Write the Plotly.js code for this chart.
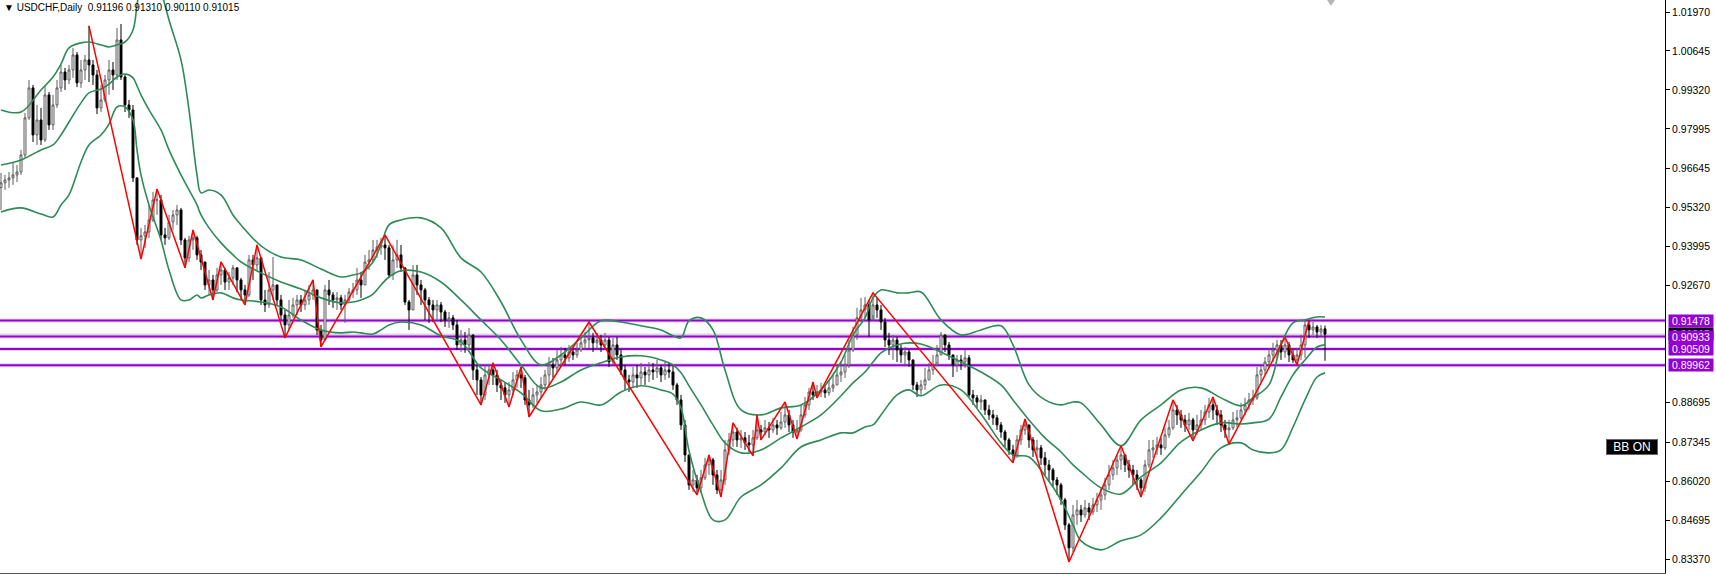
<!DOCTYPE html>
<html><head><meta charset="utf-8">
<script src="https://cdn.plot.ly/plotly-3.0.1.min.js"></script>
<style>html,body{margin:0;padding:0;background:#fff;}#chart{width:1716px;height:577px;}</style>
</head><body><div id="chart"></div>
<script>
// ---- data ----
const symbolTitle = 'USDCHF,Daily';
const lastBar = {open: 0.91196, high: 0.91310, low: 0.90110, close: 0.91015};
const firstOpen = 0.9600;
const closes = [
0.9616,0.9626,0.9633,0.9643,0.9653,0.9711,0.9837,0.9939,0.9779,0.9830,
0.9762,0.9915,0.9813,0.9881,0.9939,0.9993,0.9966,1.0000,1.0051,0.9956,
1.0000,1.0034,1.0017,0.9983,0.9871,0.9898,0.9966,1.0000,0.9983,1.0102,
0.9976,0.9881,0.9864,0.9633,0.9422,0.9436,0.9449,0.9490,0.9558,0.9558,
0.9439,0.9429,0.9483,0.9507,0.9524,0.9422,0.9361,0.9422,0.9429,0.9371,
0.9347,0.9269,0.9286,0.9252,0.9303,0.9320,0.9279,0.9293,0.9327,0.9286,
0.9252,0.9235,0.9354,0.9337,0.9361,0.9218,0.9201,0.9252,0.9269,0.9218,
0.9167,0.9133,0.9167,0.9201,0.9218,0.9201,0.9218,0.9235,0.9252,0.9116,
0.9082,0.9252,0.9235,0.9218,0.9225,0.9201,0.9218,0.9245,0.9252,0.9286,
0.9269,0.9347,0.9354,0.9388,0.9398,0.9405,0.9395,0.9303,0.9354,0.9371,
0.9327,0.9211,0.9184,0.9303,0.9269,0.9252,0.9218,0.9201,0.9184,0.9201,
0.9177,0.9150,0.9157,0.9133,0.9065,0.9082,0.9065,0.9099,0.8980,0.8946,
0.8895,0.8963,0.8980,0.8963,0.8929,0.8919,0.8895,0.8912,0.8946,0.8963,
0.8953,0.8878,0.8861,0.8895,0.8905,0.8929,0.8963,0.8997,0.8987,0.9014,
0.9031,0.9021,0.9041,0.9031,0.9048,0.9072,0.9082,0.9089,0.9072,0.9082,
0.9065,0.9082,0.9007,0.9065,0.9031,0.8980,0.8946,0.8939,0.8963,0.8953,
0.8973,0.8963,0.8980,0.8973,0.8987,0.8963,0.8980,0.8973,0.8929,0.8878,
0.8793,0.8691,0.8589,0.8606,0.8579,0.8613,0.8657,0.8674,0.8623,0.8572,
0.8606,0.8708,0.8742,0.8769,0.8742,0.8749,0.8732,0.8725,0.8749,0.8776,
0.8769,0.8783,0.8776,0.8793,0.8783,0.8803,0.8827,0.8793,0.8769,0.8776,
0.8827,0.8861,0.8905,0.8895,0.8905,0.8912,0.8902,0.8919,0.8929,0.8963,
0.8973,0.8997,0.9048,0.9099,0.9157,0.9184,0.9201,0.9150,0.9201,0.9184,
0.9143,0.9082,0.9065,0.9082,0.9048,0.9031,0.9041,0.9014,0.8929,0.8912,
0.8929,0.8946,0.8980,0.8997,0.9031,0.9099,0.9065,0.9031,0.8997,0.9014,
0.9007,0.9021,0.8895,0.8885,0.8871,0.8878,0.8844,0.8827,0.8817,0.8793,
0.8769,0.8742,0.8708,0.8691,0.8742,0.8776,0.8793,0.8742,0.8708,0.8715,
0.8681,0.8657,0.8640,0.8606,0.8589,0.8538,0.8453,0.8375,0.8487,0.8504,
0.8487,0.8511,0.8497,0.8521,0.8538,0.8555,0.8589,0.8623,0.8647,0.8674,
0.8691,0.8657,0.8640,0.8623,0.8606,0.8579,0.8657,0.8708,0.8715,0.8725,
0.8715,0.8759,0.8783,0.8844,0.8827,0.8810,0.8793,0.8810,0.8776,0.8793,
0.8810,0.8837,0.8861,0.8844,0.8827,0.8793,0.8776,0.8783,0.8810,0.8817,
0.8844,0.8861,0.8878,0.8885,0.8963,0.8980,0.9007,0.9031,0.9048,0.9065,
0.9041,0.9065,0.9031,0.9014,0.9031,0.9065,0.9133,0.9116,0.9126,0.9109,
0.91196,0.91015];
const highs = [
0.9650,0.9643,0.9653,0.9684,0.9677,0.9728,0.9854,0.9966,0.9949,0.9881,
0.9871,0.9949,0.9925,0.9915,0.9966,1.0017,1.0007,1.0017,1.0075,1.0061,
1.0034,1.0051,1.0150,1.0034,1.0000,0.9949,0.9983,1.0034,1.0027,1.0143,
1.0156,0.9983,0.9898,0.9881,0.9633,0.9463,0.9473,0.9541,0.9585,0.9595,
0.9575,0.9463,0.9507,0.9524,0.9541,0.9531,0.9429,0.9436,0.9456,0.9436,
0.9388,0.9347,0.9320,0.9303,0.9327,0.9347,0.9327,0.9313,0.9337,0.9327,
0.9293,0.9269,0.9371,0.9371,0.9405,0.9361,0.9252,0.9313,0.9364,0.9269,
0.9235,0.9184,0.9218,0.9225,0.9235,0.9235,0.9252,0.9269,0.9286,0.9245,
0.9133,0.9269,0.9286,0.9245,0.9245,0.9235,0.9235,0.9259,0.9276,0.9327,
0.9313,0.9371,0.9388,0.9422,0.9422,0.9429,0.9439,0.9405,0.9405,0.9422,
0.9405,0.9327,0.9218,0.9337,0.9337,0.9286,0.9259,0.9228,0.9218,0.9218,
0.9211,0.9184,0.9177,0.9167,0.9150,0.9116,0.9109,0.9123,0.9099,0.8997,
0.8956,0.8997,0.8997,0.9004,0.8980,0.8946,0.8936,0.8939,0.8973,0.8980,
0.8990,0.8963,0.8912,0.8919,0.8929,0.8956,0.8980,0.9024,0.9021,0.9048,
0.9058,0.9055,0.9065,0.9058,0.9072,0.9099,0.9109,0.9143,0.9106,0.9106,
0.9099,0.9106,0.9092,0.9089,0.9092,0.9048,0.8997,0.8963,0.8990,0.8997,
0.9004,0.8990,0.9007,0.9004,0.9014,0.8997,0.9007,0.9004,0.8997,0.8936,
0.8895,0.8810,0.8691,0.8640,0.8623,0.8640,0.8681,0.8691,0.8681,0.8640,
0.8640,0.8742,0.8766,0.8800,0.8783,0.8776,0.8769,0.8759,0.8776,0.8827,
0.8793,0.8810,0.8803,0.8817,0.8810,0.8837,0.8871,0.8844,0.8810,0.8810,
0.8861,0.8888,0.8919,0.8939,0.8929,0.8936,0.8929,0.8946,0.8963,0.8997,
0.9007,0.9031,0.9082,0.9126,0.9191,0.9225,0.9228,0.9218,0.9242,0.9225,
0.9201,0.9157,0.9106,0.9099,0.9092,0.9065,0.9058,0.9048,0.9014,0.8939,
0.8946,0.8987,0.9004,0.9031,0.9065,0.9109,0.9099,0.9075,0.9031,0.9031,
0.9031,0.9048,0.9031,0.8912,0.8895,0.8895,0.8878,0.8861,0.8844,0.8827,
0.8803,0.8776,0.8749,0.8725,0.8759,0.8793,0.8813,0.8793,0.8752,0.8742,
0.8725,0.8701,0.8674,0.8647,0.8616,0.8596,0.8545,0.8460,0.8521,0.8538,
0.8521,0.8538,0.8528,0.8545,0.8562,0.8579,0.8613,0.8657,0.8674,0.8691,
0.8722,0.8691,0.8674,0.8657,0.8640,0.8613,0.8674,0.8742,0.8742,0.8752,
0.8749,0.8783,0.8810,0.8878,0.8861,0.8844,0.8827,0.8834,0.8817,0.8827,
0.8844,0.8861,0.8885,0.8888,0.8861,0.8844,0.8810,0.8810,0.8837,0.8844,
0.8868,0.8885,0.8902,0.8912,0.8990,0.8997,0.9024,0.9055,0.9072,0.9082,
0.9082,0.9092,0.9075,0.9048,0.9055,0.9099,0.9150,0.9147,0.9143,0.9133,
0.9133,0.9131];
const lows = [
0.9524,0.9592,0.9599,0.9609,0.9619,0.9643,0.9701,0.9830,0.9755,0.9745,
0.9745,0.9755,0.9796,0.9796,0.9871,0.9925,0.9932,0.9952,0.9973,0.9942,
0.9939,0.9966,0.9959,0.9949,0.9850,0.9857,0.9891,0.9915,0.9932,0.9966,
0.9966,0.9857,0.9837,0.9619,0.9405,0.9357,0.9395,0.9429,0.9483,0.9507,
0.9422,0.9405,0.9422,0.9456,0.9473,0.9405,0.9327,0.9347,0.9388,0.9354,
0.9320,0.9252,0.9235,0.9218,0.9245,0.9269,0.9252,0.9252,0.9269,0.9245,
0.9218,0.9201,0.9228,0.9286,0.9320,0.9201,0.9177,0.9191,0.9218,0.9201,
0.9150,0.9089,0.9116,0.9157,0.9167,0.9177,0.9184,0.9201,0.9218,0.9099,
0.9058,0.9089,0.9201,0.9191,0.9184,0.9184,0.9140,0.9211,0.9225,0.9235,
0.9225,0.9269,0.9320,0.9347,0.9361,0.9371,0.9354,0.9293,0.9286,0.9327,
0.9313,0.9201,0.9116,0.9184,0.9235,0.9201,0.9150,0.9140,0.9143,0.9150,
0.9143,0.9126,0.9123,0.9116,0.9048,0.9041,0.9038,0.9048,0.8946,0.8895,
0.8861,0.8878,0.8929,0.8929,0.8905,0.8878,0.8868,0.8854,0.8895,0.8919,
0.8919,0.8861,0.8820,0.8851,0.8868,0.8885,0.8912,0.8929,0.8953,0.8973,
0.8990,0.8997,0.9007,0.9014,0.9021,0.9041,0.9048,0.9055,0.9041,0.9048,
0.9041,0.9048,0.8990,0.8997,0.9014,0.8963,0.8912,0.8905,0.8919,0.8919,
0.8929,0.8929,0.8939,0.8946,0.8953,0.8939,0.8946,0.8953,0.8912,0.8861,
0.8776,0.8667,0.8572,0.8565,0.8555,0.8565,0.8606,0.8623,0.8589,0.8558,
0.8548,0.8589,0.8691,0.8718,0.8718,0.8715,0.8708,0.8701,0.8688,0.8742,
0.8742,0.8759,0.8749,0.8766,0.8759,0.8776,0.8783,0.8769,0.8749,0.8745,
0.8769,0.8817,0.8844,0.8878,0.8885,0.8888,0.8885,0.8892,0.8905,0.8929,
0.8939,0.8953,0.8987,0.9041,0.9082,0.9143,0.9157,0.9092,0.9167,0.9157,
0.9116,0.9058,0.9031,0.9014,0.9007,0.9004,0.8997,0.8990,0.8912,0.8888,
0.8895,0.8912,0.8946,0.8963,0.9007,0.9031,0.9041,0.9014,0.8956,0.8973,
0.8980,0.8987,0.8888,0.8861,0.8851,0.8844,0.8827,0.8810,0.8793,0.8776,
0.8749,0.8718,0.8691,0.8664,0.8681,0.8725,0.8759,0.8715,0.8684,0.8684,
0.8657,0.8623,0.8599,0.8582,0.8555,0.8521,0.8436,0.8327,0.8361,0.8453,
0.8463,0.8477,0.8470,0.8487,0.8497,0.8504,0.8538,0.8572,0.8606,0.8623,
0.8640,0.8633,0.8613,0.8589,0.8572,0.8548,0.8565,0.8647,0.8681,0.8691,
0.8691,0.8708,0.8749,0.8776,0.8793,0.8783,0.8769,0.8776,0.8739,0.8759,
0.8776,0.8793,0.8817,0.8810,0.8793,0.8769,0.8749,0.8728,0.8776,0.8786,
0.8810,0.8827,0.8844,0.8861,0.8878,0.8939,0.8963,0.8987,0.9007,0.9021,
0.9014,0.9021,0.9007,0.9004,0.8997,0.9014,0.9021,0.9089,0.9099,0.9089,
0.9096,0.9011];

const zigzagBar = [22,35,39,46,48,53,55,61,64,71,78,80,96,120,123,127,130,132,147,174,177,180,183,188,189,190,196,199,203,204,218,253,256,267,280,285,293,298,303,307,321,324,327];
const zigzagPrice = [1.0150,0.9357,0.9595,0.9327,0.9456,0.9218,0.9347,0.9201,0.9405,0.9089,0.9286,0.9058,0.9439,0.8861,0.9004,0.8854,0.8990,0.8820,0.9143,0.8555,0.8691,0.8548,0.8800,0.8688,0.8827,0.8742,0.8871,0.8745,0.8939,0.8885,0.9242,0.8664,0.8813,0.8327,0.8722,0.8548,0.8878,0.8739,0.8888,0.8728,0.9092,0.8997,0.9147];

const bbBar = [0,5,10,13,15,17,20,22,25,27,29,31,33,34,35,37,40,42,45,47,49,50,52,55,58,60,65,70,75,80,85,88,90,93,95,97,100,105,110,115,120,125,130,135,140,145,150,155,160,165,168,170,172,175,178,181,185,190,195,200,205,210,213,216,218,220,224,227,230,235,240,245,250,253,257,261,265,268,270,275,280,285,290,295,300,305,310,313,317,320,323,326,329,331];
const bbUpper = [0.9864,0.9857,0.9932,0.9976,1.0020,1.0075,1.0092,1.0095,1.0085,1.0078,1.0085,1.0095,1.0136,1.0221,1.0306,1.0442,1.0272,1.0170,1.0034,0.9864,0.9643,0.9582,0.9592,0.9575,0.9507,0.9473,0.9402,0.9364,0.9354,0.9323,0.9296,0.9303,0.9310,0.9347,0.9405,0.9473,0.9490,0.9497,0.9463,0.9361,0.9313,0.9211,0.9082,0.8997,0.9031,0.9089,0.9147,0.9143,0.9130,0.9116,0.9096,0.9089,0.9147,0.9157,0.9116,0.8980,0.8844,0.8827,0.8851,0.8861,0.8912,0.9007,0.9099,0.9157,0.9225,0.9252,0.9242,0.9242,0.9245,0.9150,0.9099,0.9116,0.9130,0.9065,0.8929,0.8878,0.8861,0.8871,0.8868,0.8793,0.8722,0.8810,0.8861,0.8912,0.8919,0.8885,0.8858,0.8885,0.8929,0.9065,0.9140,0.9150,0.9160,0.9160];
const bbMiddle = [0.9677,0.9694,0.9728,0.9745,0.9779,0.9823,0.9888,0.9922,0.9935,0.9952,0.9976,0.9986,0.9973,0.9946,0.9915,0.9864,0.9796,0.9728,0.9643,0.9592,0.9541,0.9507,0.9463,0.9412,0.9371,0.9347,0.9310,0.9279,0.9255,0.9225,0.9208,0.9211,0.9218,0.9238,0.9269,0.9296,0.9317,0.9313,0.9279,0.9218,0.9150,0.9082,0.8997,0.8919,0.8939,0.8980,0.9004,0.9024,0.9028,0.9014,0.8997,0.8970,0.8926,0.8861,0.8793,0.8732,0.8698,0.8708,0.8749,0.8786,0.8827,0.8892,0.8936,0.8973,0.9007,0.9038,0.9065,0.9072,0.9068,0.9041,0.9007,0.8973,0.8929,0.8878,0.8810,0.8749,0.8701,0.8657,0.8633,0.8579,0.8558,0.8616,0.8664,0.8735,0.8776,0.8800,0.8796,0.8800,0.8813,0.8888,0.8963,0.9014,0.9058,0.9065];
const bbLower = [0.9517,0.9531,0.9510,0.9500,0.9541,0.9575,0.9687,0.9745,0.9779,0.9816,0.9874,0.9874,0.9830,0.9728,0.9643,0.9541,0.9422,0.9320,0.9218,0.9218,0.9235,0.9225,0.9235,0.9242,0.9225,0.9218,0.9211,0.9194,0.9150,0.9116,0.9106,0.9109,0.9106,0.9102,0.9116,0.9133,0.9143,0.9133,0.9096,0.9075,0.8987,0.8946,0.8902,0.8841,0.8847,0.8871,0.8861,0.8905,0.8926,0.8912,0.8898,0.8851,0.8705,0.8565,0.8470,0.8470,0.8548,0.8589,0.8647,0.8718,0.8742,0.8766,0.8766,0.8786,0.8793,0.8827,0.8895,0.8912,0.8892,0.8929,0.8912,0.8830,0.8732,0.8691,0.8684,0.8620,0.8538,0.8453,0.8399,0.8368,0.8399,0.8419,0.8477,0.8555,0.8633,0.8715,0.8732,0.8708,0.8698,0.8708,0.8786,0.8878,0.8956,0.8970];

const levelPrices = [0.91478, 0.90933, 0.90509, 0.89962];
const tickVals = [1.0197, 1.00645, 0.9932, 0.97995, 0.96645, 0.9532, 0.93995, 0.9267, 0.88695, 0.87345, 0.8602, 0.84695, 0.8337];
const tickText = ['1.01970','1.00645','0.99320','0.97995','0.96645','0.95320','0.93995','0.92670','0.88695','0.87345','0.86020','0.84695','0.83370'];
const indicatorLabel = 'BB ON';

// ---- build ----
const n = closes.length;
const bars = closes.map((_, i) => i);
const opens = closes.map((c, i) => i === 0 ? firstOpen : (i === n - 1 ? lastBar.open : closes[i - 1]));

const FONT = 'Liberation Sans, Arial, sans-serif';
const BAND = '#2E8B57';

const traces = [
  {type: 'candlestick', x: bars, open: opens, high: highs, low: lows, close: closes,
   increasing: {line: {color: '#5c5c5c', width: 1}, fillcolor: '#ffffff'},
   decreasing: {line: {color: '#000000', width: 1}, fillcolor: '#000000'},
   whiskerwidth: 0, hoverinfo: 'skip', showlegend: false},
  {type: 'scatter', mode: 'lines', x: bbBar, y: bbUpper, line: {color: BAND, width: 1.6, shape: 'spline', smoothing: 1}, hoverinfo: 'skip', showlegend: false},
  {type: 'scatter', mode: 'lines', x: bbBar, y: bbMiddle, line: {color: BAND, width: 1.6, shape: 'spline', smoothing: 1}, hoverinfo: 'skip', showlegend: false},
  {type: 'scatter', mode: 'lines', x: bbBar, y: bbLower, line: {color: BAND, width: 1.6, shape: 'spline', smoothing: 1}, hoverinfo: 'skip', showlegend: false},
  {type: 'scatter', mode: 'lines', x: zigzagBar, y: zigzagPrice, line: {color: '#ff0000', width: 1.5}, hoverinfo: 'skip', showlegend: false}
];

const shapes = [];
shapes.push({type: 'line', xref: 'paper', x0: 0, x1: 1, yref: 'y', y0: lastBar.close, y1: lastBar.close, line: {color: '#c0c0c0', width: 1}, layer: 'below'});
levelPrices.forEach(p => {
  shapes.push({type: 'line', xref: 'paper', x0: 0, x1: 1, yref: 'y', y0: p, y1: p, line: {color: '#e4d2f6', width: 4}, layer: 'below'});
  shapes.push({type: 'line', xref: 'paper', x0: 0, x1: 1, yref: 'y', y0: p, y1: p, line: {color: '#9400D3', width: 2}, layer: 'below'});
});
// chart-shift marker at top
shapes.push({type: 'path', xref: 'paper', yref: 'paper', path: 'M0.7970,1 L0.8018,1 L0.7994,0.990 Z', fillcolor: '#b4b4b4', line: {width: 0}, layer: 'above'});

const annotations = [];
annotations.push({xref: 'paper', yref: 'paper', x: 0, y: 1, xanchor: 'left', yanchor: 'top', xshift: 2, yshift: 0,
  text: '\u25BC\u00a0' + symbolTitle + '\u00a0\u00a0' + [lastBar.open, lastBar.high, lastBar.low, lastBar.close].map(v => v.toFixed(5)).join('\u00a0'),
  showarrow: false, font: {family: FONT, size: 10, color: '#000'}});
annotations.push({xref: 'paper', x: 1, xanchor: 'left', xshift: 3, yref: 'y', y: lastBar.close, text: lastBar.close.toFixed(5),
  showarrow: false, bgcolor: '#000', font: {family: FONT, size: 10.5, color: '#fff'}, width: 44, height: 12, borderpad: 0});
levelPrices.forEach(p => {
  annotations.push({xref: 'paper', x: 1, xanchor: 'left', xshift: 3, yref: 'y', y: p, text: p.toFixed(5),
    showarrow: false, bgcolor: '#9400D3', font: {family: FONT, size: 10.5, color: '#fff'}, width: 44, height: 12, borderpad: 0});
});
annotations.push({xref: 'paper', x: 1632 / 1665, xanchor: 'center', yref: 'y', y: 0.8718, text: indicatorLabel,
  showarrow: false, bgcolor: '#000', bordercolor: '#666', borderwidth: 1, font: {family: FONT, size: 12, color: '#fff'}, width: 50, height: 14, borderpad: 0});

const layout = {
  width: 1716, height: 577,
  margin: {l: 0, r: 51, t: 0, b: 4, pad: 0},
  paper_bgcolor: '#ffffff', plot_bgcolor: '#ffffff',
  showlegend: false,
  xaxis: {range: [-0.25, 416], showgrid: false, zeroline: false, showticklabels: false, ticks: '',
          showline: true, linecolor: '#555', linewidth: 1, rangeslider: {visible: false}, fixedrange: true},
  yaxis: {side: 'right', range: [0.82895, 1.02378], tickvals: tickVals, ticktext: tickText,
          ticks: 'outside', ticklen: 4, tickcolor: '#000', showgrid: false, zeroline: false,
          showline: true, linecolor: '#000', linewidth: 1, tickfont: {family: FONT, size: 10.5, color: '#000'}, fixedrange: true},
  shapes: shapes,
  annotations: annotations
};

Plotly.newPlot('chart', traces, layout, {staticPlot: true, displayModeBar: false});
</script>
</body></html>
